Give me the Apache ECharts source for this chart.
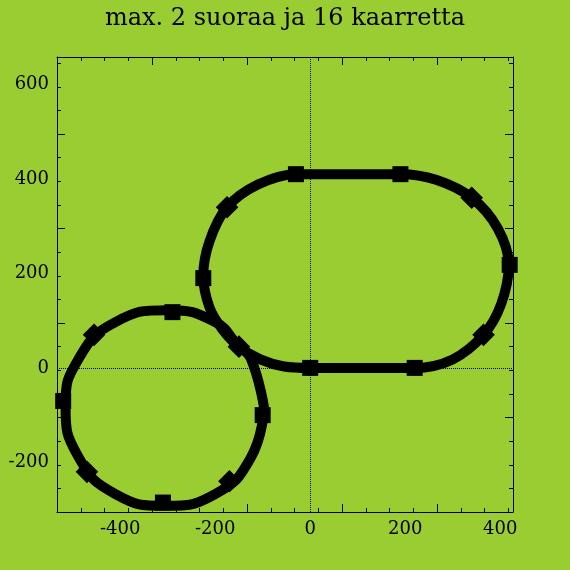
<!DOCTYPE html><html><head><meta charset="utf-8">
<script src="https://cdn.jsdelivr.net/npm/echarts@6/dist/echarts.min.js"></script>
<style>html,body{margin:0;background:#9acd32}#c{width:570px;height:570px}</style></head><body><div id="c"></div>
<script>
const titleText = "max. 2 suoraa ja 16 kaarretta";
const xTicks = [-400,-200,0,200,400];
const yTicks = [-200,0,200,400,600];
const ovalPath = [[0,0],[80,0],[150,0],[220,0],[300,18],[365,70],[402,135],[418,218],[395,295],[340,360],[265,398],[190,410],[100,410],[40,410],[-30,410],[-110,388],[-175,340],[-212,268],[-225,195],[-212,128],[-185,82],[-150,45],[-105,18],[-55,3],[0,0]];
const circlePath = [[-97,-85],[-125,20],[-150,45],[-200,97],[-300,122],[-410,97],[-487,20],[-515,-80],[-487,-190],[-410,-267],[-305,-292],[-200,-267],[-125,-190],[-97,-85]];
const squareMarks = [[-30,410],[190,410],[420,218],[220,0],[0,0],[-225,190],[-290,118],[-520,-70],[-100,-100],[-310,-285]];
const diamondMarks = [[-175,340],[340,360],[365,70],[-150,45],[-455,70],[-470,-220],[-170,-240]];
const lbl = {color:'#000',fontFamily:'DejaVu Serif',fontSize:18};
const ax = (min,max,show,pos,extra)=>Object.assign({type:'value',min,max,position:pos,interval:200,
  axisLine:{show:true,onZero:false,lineStyle:{color:'#000'}},axisTick:{show:true,inside:true,length:8,lineStyle:{color:'#000'}},
  minorTick:{show:true,splitNumber:4,length:4,lineStyle:{color:'#000'}},
  splitLine:{show:false},axisLabel:Object.assign({show:show,margin:8},lbl)},extra||{});
const c = echarts.init(document.getElementById('c'));
c.setOption({backgroundColor:'#9acd32',animation:false,
 title:{text:titleText,left:'center',top:2,textStyle:{fontFamily:'DejaVu Serif',fontWeight:'normal',fontSize:24,color:'#000'}},
 grid:{left:57,right:57,top:57,bottom:58},
 xAxis:[ax(-533,427,true,'bottom',{axisLabel:Object.assign({show:true,margin:8,customValues:xTicks},lbl)}),ax(-533,427,false,'top')],
 yAxis:[ax(-305,658,true,'left',{axisLabel:Object.assign({show:true,margin:8,customValues:yTicks},lbl)}),ax(-305,658,false,'right')],
 series:[
  {type:'line',data:ovalPath,smooth:0.35,symbol:'none',lineStyle:{color:'#000',width:10},
   markLine:{silent:true,symbol:'none',label:{show:false},lineStyle:{color:'#000',type:'dotted',width:1},data:[{xAxis:0},{yAxis:0}]},z:3},
  {type:'line',data:circlePath,smooth:0.5,symbol:'none',lineStyle:{color:'#000',width:10},z:3},
  {type:'scatter',data:squareMarks,symbol:'rect',symbolSize:16,itemStyle:{color:'#000',opacity:1},emphasis:{disabled:true},z:4},
  {type:'scatter',data:diamondMarks,symbol:'rect',symbolRotate:45,symbolSize:16,itemStyle:{color:'#000',opacity:1},emphasis:{disabled:true},z:4}
 ]});
</script></body></html>
